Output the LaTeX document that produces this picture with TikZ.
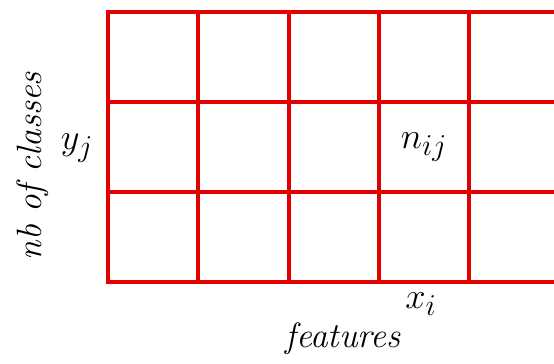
\documentclass[tikz,border=0pt]{standalone}
\usepackage{amsmath}
% larger subscripts for the cell and axis indices
\DeclareMathSizes{20}{20}{17}{14}
\tikzset{
    gridline/.style={draw=red!90!black, line width=2.2pt},
    lbl/.style={font=\fontsize{20}{24}\selectfont},
}
\begin{document}
\begin{tikzpicture}[x=0.02cm, y=-0.02cm]
    \useasboundingbox (0,0) rectangle (554,363);
    \begin{scope}
        \clip (0,0) rectangle (554,363);
        % contingency table, rows = classes, columns = features
        \foreach \y in {12,102,192,282} {
            \draw[gridline, line cap=rect] (108,\y) -- (580,\y);
        }
        \foreach \x in {108,198,289,379,469} {
            \draw[gridline] (\x,12) -- (\x,282);
        }
    \end{scope}
    % labels
    \node[lbl] (nij) at (424,147) {$n_{ij}$};
    \node[lbl] (yj) at (77,148) {$y_j$};
    \node[lbl] (xi) at (421,304) {$x_i$};
    \node[lbl] (feat) at (343,339) {\itshape features};
    \node[lbl, rotate=90] (ncl) at (33,166) {\itshape nb of classes};
\end{tikzpicture}
\end{document}
